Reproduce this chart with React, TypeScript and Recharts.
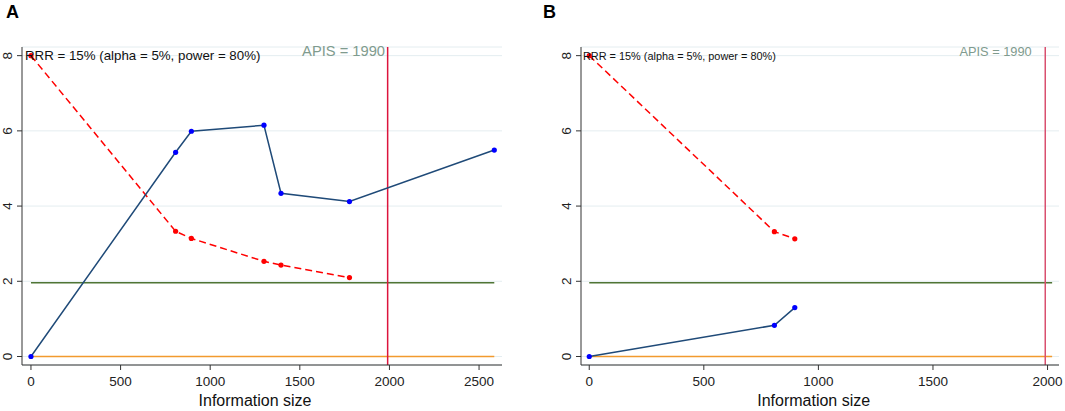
// Zwei TSA-Panels (A, B): kumulative Z-Kurve, Monitoring-Grenze, APIS-Linie (recharts).

import { LineChart, Line, XAxis, YAxis, CartesianGrid, ReferenceLine } from "recharts"

// Panel A
const sizeA = [0, 807, 895, 1300, 1395, 1777, 2585]
const zA = [0, 5.43, 5.99, 6.15, 4.34, 4.12, 5.49]
const boundA = [8, 3.33, 3.14, 2.53, 2.43, 2.1, null]
const ticksA = [0, 500, 1000, 1500, 2000, 2500]

// Panel B
const sizeB = [0, 808, 897]
const zB = [0, 0.83, 1.3]
const boundB = [8, 3.32, 3.13]
const ticksB = [0, 500, 1000, 1500, 2000]

const yTicks = [0, 2, 4, 6, 8]
const APIS = 1990
const CONV_Z = 1.96

const FONT = "'Liberation Sans', Arial, sans-serif"

type PanelProps = {
  letter: string
  left: number
  width: number
  yAxisWidth: number
  rightMargin: number
  xDomain: [number, number]
  xTicks: number[]
  sizes: number[]
  z: number[]
  bound: (number | null)[]
  lineEnd: number
  apisColor: string
  letterX: number
  rrrX: number
  rrrSize: number
  apisX: number
  apisSize: number
  titleX: number
}

function YTick(props: any) {
  const { x, y, payload } = props
  const bx = x - 5
  return (
    <text
      x={bx}
      y={y}
      transform={`rotate(-90 ${bx} ${y})`}
      textAnchor="middle"
      fontSize={13.5}
      fill="#222"
      fontFamily={FONT}
    >
      {payload.value}
    </text>
  )
}

function Panel(p: PanelProps) {
  const rows = p.sizes.map((x, i) => ({ x, z: p.z[i], b: p.bound[i] }))
  const H = 411
  return (
    <div style={{ position: "absolute", left: p.left, top: 0, width: p.width, height: H }}>
      <LineChart
        width={p.width}
        height={H}
        data={rows}
        margin={{ top: 47, right: p.rightMargin, left: 0, bottom: 0 }}
      >
        <CartesianGrid vertical={false} stroke="#e4edf0" strokeWidth={1} />
        <XAxis
          dataKey="x"
          type="number"
          domain={p.xDomain}
          allowDataOverflow
          ticks={p.xTicks}
          height={46}
          tickSize={5}
          tickMargin={6}
          stroke="#333"
          tick={{ fontSize: 13.5, fill: "#222", fontFamily: FONT }}
        />
        <YAxis
          type="number"
          domain={[-0.226, 8.23]}
          allowDataOverflow
          ticks={yTicks}
          width={p.yAxisWidth}
          tickSize={5}
          tickMargin={0}
          stroke="#333"
          tick={<YTick />}
        />
        <ReferenceLine
          segment={[
            { x: 0, y: 0 },
            { x: p.lineEnd, y: 0 },
          ]}
          stroke="#f29a2e"
          strokeWidth={1.5}
        />
        <ReferenceLine
          segment={[
            { x: 0, y: CONV_Z },
            { x: p.lineEnd, y: CONV_Z },
          ]}
          stroke="#4f7535"
          strokeWidth={1.5}
        />
        <ReferenceLine x={APIS} stroke={p.apisColor} strokeWidth={1.5} />
        <Line
          dataKey="b"
          stroke="#ff0000"
          strokeWidth={1.5}
          strokeDasharray="7 4"
          dot={{ r: 2.6, fill: "#ff0000", stroke: "#ff0000", strokeWidth: 0 }}
          isAnimationActive={false}
        />
        <Line
          dataKey="z"
          stroke="#1f4a78"
          strokeWidth={1.5}
          dot={{ r: 2.6, fill: "#0000ff", stroke: "#0000ff", strokeWidth: 0 }}
          isAnimationActive={false}
        />
      </LineChart>
      <svg
        width={p.width}
        height={H}
        style={{ position: "absolute", left: 0, top: 0, pointerEvents: "none" }}
        fontFamily={FONT}
      >
        <text x={p.letterX} y={18} fontSize={18} fontWeight="bold" fill="#000">
          {p.letter}
        </text>
        <text x={p.rrrX} y={60} fontSize={p.rrrSize} fill="#111">
          RRR = 15% (alpha = 5%, power = 80%)
        </text>
        <text x={p.apisX} y={55.5} fontSize={p.apisSize} fill="#7f9b8e" textAnchor="end">
          APIS = 1990
        </text>
        <text x={p.titleX} y={406} fontSize={16} fill="#111" textAnchor="middle">
          Information size
        </text>
      </svg>
    </div>
  )
}

export default function App() {
  return (
    <div style={{ position: "absolute", left: 0, top: 0, width: 1065, height: 411, background: "#fff" }}>
      <Panel
        letter="A"
        left={0}
        width={530}
        yAxisWidth={22}
        rightMargin={28}
        xDomain={[-50, 2628]}
        xTicks={ticksA}
        sizes={sizeA}
        z={zA}
        bound={boundA}
        lineEnd={2585}
        apisColor="#dc143c"
        letterX={6}
        rrrX={25}
        rrrSize={13.3}
        apisX={385}
        apisSize={14.7}
        titleX={255}
      />
      <Panel
        letter="B"
        left={530}
        width={535}
        yAxisWidth={51}
        rightMargin={6}
        xDomain={[-36, 2050]}
        xTicks={ticksB}
        sizes={sizeB}
        z={zB}
        bound={boundB}
        lineEnd={2020}
        apisColor="#d9506f"
        letterX={13}
        rrrX={53}
        rrrSize={10.9}
        apisX={501.7}
        apisSize={12.8}
        titleX={283.7}
      />
    </div>
  )
}
